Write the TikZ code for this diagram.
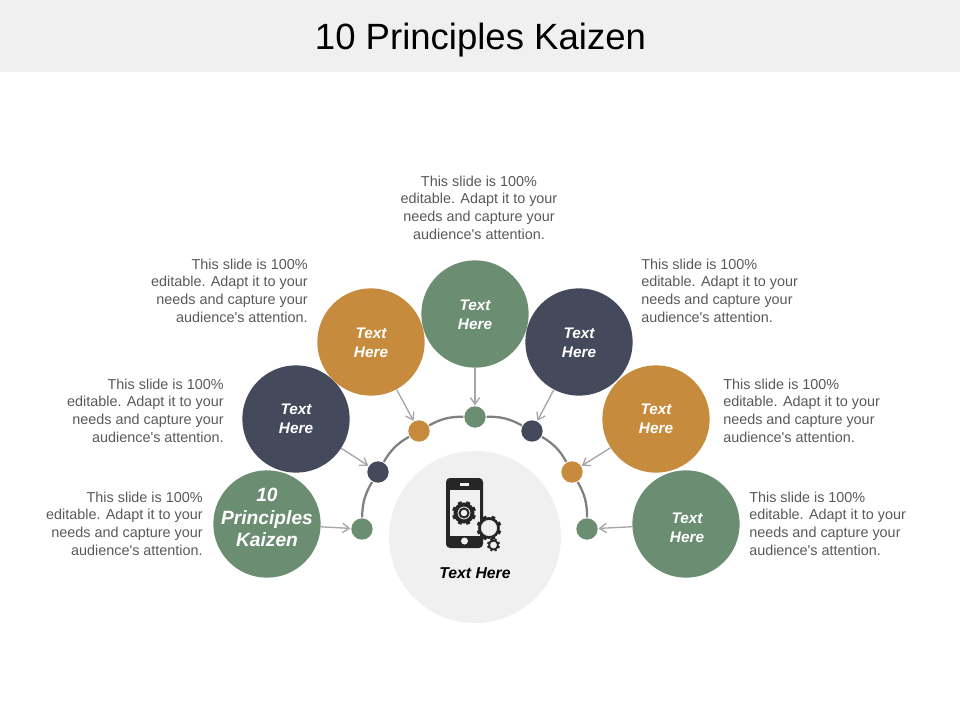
\documentclass[tikz,border=0pt]{standalone}
\usepackage{fontspec}
\setmainfont{Liberation Sans}
\usetikzlibrary{arrows.meta}
\definecolor{kzgreen}{HTML}{6B8E73}
\definecolor{kzorange}{HTML}{C68B3C}
\definecolor{kznavy}{HTML}{44495C}
\definecolor{kzband}{HTML}{F0F0F0}
\definecolor{kzbody}{HTML}{595959}
\definecolor{kzarrow}{HTML}{A6A6A6}
\definecolor{kzarc}{HTML}{808080}
\definecolor{kzicon}{HTML}{262626}
\newcommand{\slidetext}{This slide is 100\%\\editable. Adapt it to your\\needs and capture your\\audience\textquotesingle s attention.}
\tikzset{
    bigcirc/.style = {circle, minimum size = 80.5pt, inner sep = 0pt},
    dotcirc/.style = {circle, minimum size = 16pt, inner sep = 0pt},
    circlabel/.style = {text = white, align = center, font = \fontsize{11.5}{14.2}\selectfont\bfseries\itshape},
    bodytext/.style = {text = kzbody, inner sep = 0pt, font = \fontsize{10.8}{13.3}\selectfont},
    spoke/.style = {-{Straight Barb[length = 5pt, width = 7pt]}, draw = kzarrow, line width = 1pt, shorten > = 0.5pt},
    rimline/.style = {draw = kzarc, line width = 1.7pt, shorten > = 0.5pt, shorten < = 0.5pt}
}
\begin{document}
\begin{tikzpicture}[x = 0.75pt, y = -0.75pt]
\useasboundingbox (0, 0) rectangle (960, 720);
\fill[kzband] (0, 0) rectangle (960, 72);
\node (title) at (480.5, 40) {\fontsize{27.4}{32}\selectfont 10 Principles Kaizen};
\node[circle, fill = kzband, minimum size = 129pt, inner sep = 0pt] (hub) at (475, 537) {};
\foreach \n/\x/\y/\c in {1/267/524/kzgreen, 2/296/419/kznavy, 3/371/342/kzorange, 4/475/314/kzgreen, 5/579/342/kznavy, 6/656/419/kzorange, 7/686/524/kzgreen}
    {\node[bigcirc, fill = \c] (c\n) at (\x, \y) {};};
\foreach \n/\x/\y/\c in {1/362/529/kzgreen, 2/378/472/kznavy, 3/419/431/kzorange, 4/475/417/kzgreen, 5/532/431/kznavy, 6/572/472/kzorange, 7/587/529/kzgreen}
    {\node[dotcirc, fill = \c] (d\n) at (\x, \y) {};};
\foreach \a/\b in {1/2, 2/3, 3/4, 4/5, 5/6, 6/7}
    {\draw[rimline] (d\a) to[bend left = 15] (d\b);};
\foreach \n in {1, ..., 7}
    {\draw[spoke] (c\n) -- (d\n);};
% circle captions
\node[circlabel, font = \fontsize{14.4}{17}\selectfont\bfseries\itshape] (cap1) at (267, 517.5) {10\\Principles\\Kaizen};
\foreach \n/\x/\y in {2/296/418.5, 3/371/342.5, 4/475/314.5, 5/579/342.5, 6/656/418.5, 7/687/527.5}
    {\node[circlabel] (cap\n) at (\x, \y) {Text\\Here};};
% descriptions
\node[bodytext, anchor = east, align = right] (txt1) at (203, 523.5) {\slidetext};
\node[bodytext, anchor = east, align = right] (txt2) at (224, 410.5) {\slidetext};
\node[bodytext, anchor = east, align = right] (txt3) at (308, 290.5) {\slidetext};
\node[bodytext, align = center] (txt4) at (479, 207.5) {\slidetext};
\node[bodytext, anchor = west, align = left] (txt5) at (641, 290.5) {\slidetext};
\node[bodytext, anchor = west, align = left] (txt6) at (723, 410.5) {\slidetext};
\node[bodytext, anchor = west, align = left] (txt7) at (749, 523.5) {\slidetext};
% phone icon
\fill[kzicon, rounded corners = 3pt] (446, 478) rectangle (483, 548);
\fill[kzband] (449.5, 490) rectangle (479.5, 536);
\fill[kzband] (460, 483) rectangle (469, 486);
\fill[kzband] (464.5, 541) circle (3.5);
\foreach \x/\y/\r/\w/\t/\l in {464/513/8.5/3/3/3.5, 489/528/9.5/2/2.8/3, 493.5/545/4.5/1.3/1.6/2}
    {\fill[kzband] (\x, \y) circle (\r + 1);
     \draw[kzicon, line width = \w pt] (\x, \y) circle (\r);
     \foreach \a in {0, 45, ..., 315}
        {\draw[kzicon, line width = \t pt, shift = {(\x, \y)}, rotate = \a + 22.5] (\r, 0) -- (\r + \l, 0);};};
\draw[kzicon, line width = 1.5pt] (464, 513) circle (4.5);
\node[font = \fontsize{11.8}{14}\selectfont\bfseries\itshape] (hublabel) at (475, 573) {Text Here};
\end{tikzpicture}
\end{document}
